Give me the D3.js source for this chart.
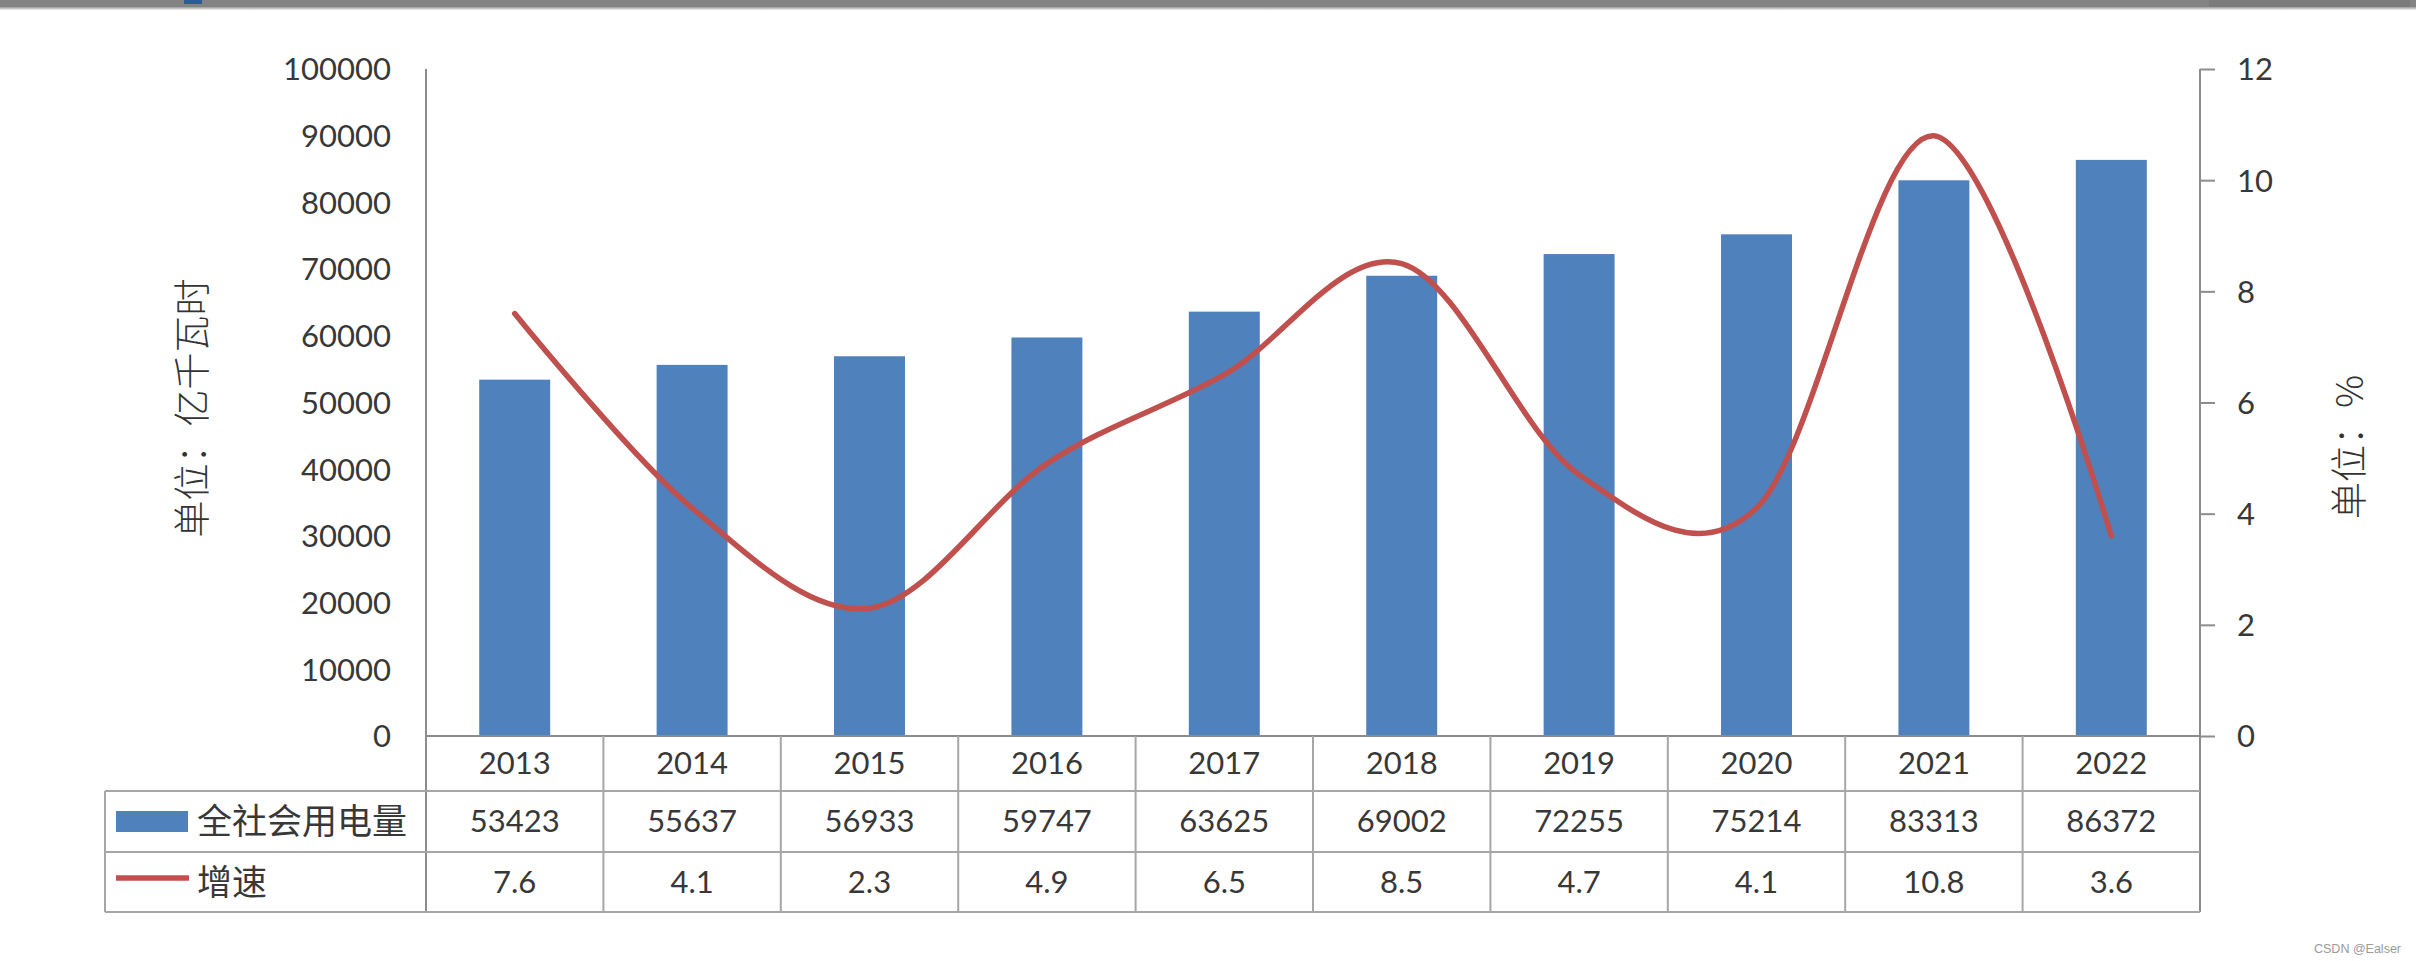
<!DOCTYPE html>
<html>
<head>
<meta charset="utf-8">
<script src="https://cdn.jsdelivr.net/npm/d3@7/dist/d3.min.js"></script>
<style>
html,body{margin:0;padding:0;background:#fff;}
svg{display:block;}
</style>
</head>
<body>
<svg id="chart" width="2416" height="961"></svg>
<script>
// ---- data ----
const years = ["2013","2014","2015","2016","2017","2018","2019","2020","2021","2022"];
const consumption = [53423,55637,56933,59747,63625,69002,72255,75214,83313,86372];
const growth = [7.6,4.1,2.3,4.9,6.5,8.5,4.7,4.1,10.8,3.6];
const leftTicks = [0,10000,20000,30000,40000,50000,60000,70000,80000,90000,100000];
const rightTicks = [0,2,4,6,8,10,12];
const seriesNames = ["全社会用电量","增速"];
const leftTitle = "单位：亿千瓦时";
const rightTitle = "单位：%";
const watermark = "CSDN @Ealser";

// ---- layout ----
const W = 2416, H = 961;
const x0 = 426, x1 = 2200, yBase = 736, yTop = 69;
const tableLeft = 105;
const rowLines = [736, 791, 852, 912];
const numFont = "Lato, 'Liberation Sans', sans-serif";
const cjkFont = "'Noto Sans CJK SC', sans-serif";
const textColor = "#383838";
const gridColor = "#a6a6a6";
const axisColor = "#8c8c8c";

const svg = d3.select("#chart");

// top screenshot band
svg.append("rect").attr("x",0).attr("y",0).attr("width",W).attr("height",7).attr("fill","#838383");
svg.append("rect").attr("x",2209).attr("y",0).attr("width",201).attr("height",7).attr("fill","#7b7b7b");
const grad = svg.append("defs").append("linearGradient").attr("id","bandg").attr("x1",0).attr("x2",0).attr("y1",0).attr("y2",1);
grad.append("stop").attr("offset","0%").attr("stop-color","#9a9a9a");
grad.append("stop").attr("offset","100%").attr("stop-color","#f0f0f0");
svg.append("rect").attr("x",0).attr("y",7).attr("width",W).attr("height",3).attr("fill","url(#bandg)");
svg.append("rect").attr("x",184).attr("y",0).attr("width",18).attr("height",4).attr("fill","#2e5b9a");

// scales
const x = d3.scaleBand().domain(years).range([x0, x1]).paddingInner(0.6).paddingOuter(0.3);
const step = x.step();
const yL = d3.scaleLinear().domain([0, 100000]).range([yBase, yTop]);
const yR = d3.scaleLinear().domain([0, 12]).range([yBase, yTop]);

// bars
svg.append("g").selectAll("rect").data(years).join("rect")
  .attr("x", d => x(d))
  .attr("y", (d,i) => yL(consumption[i]))
  .attr("width", x.bandwidth())
  .attr("height", (d,i) => yBase - yL(consumption[i]))
  .attr("fill", "#4F81BD");

// line
const line = d3.line()
  .x((d,i) => x(years[i]) + x.bandwidth()/2)
  .y(d => yR(d))
  .curve(d3.curveCardinal.tension(0));
svg.append("path").datum(growth)
  .attr("d", line)
  .attr("fill","none")
  .attr("stroke","#C0504D")
  .attr("stroke-width",5.5)
  .attr("stroke-linecap","round")
  .attr("stroke-linejoin","round");

// left axis (labels only)
const gL = svg.append("g").attr("transform", `translate(${x0},0)`)
  .call(d3.axisLeft(yL).tickValues(leftTicks).tickSize(0).tickPadding(35).tickFormat(d3.format("d")));
gL.select(".domain").remove();
gL.selectAll("text").attr("font-family", numFont).attr("font-size", 31).attr("fill", textColor).attr("dy","0.35em");

// right axis
const gR = svg.append("g").attr("transform", `translate(${x1},0)`)
  .call(d3.axisRight(yR).tickValues(rightTicks).tickSize(15).tickPadding(22).tickFormat(d3.format("d")));
gR.select(".domain").remove();
gR.selectAll("line").attr("stroke", axisColor).attr("stroke-width", 2);
gR.selectAll("text").attr("font-family", numFont).attr("font-size", 31).attr("fill", textColor).attr("dy","0.35em");

// axis vertical lines
svg.append("line").attr("x1",x0).attr("x2",x0).attr("y1",yTop).attr("y2",rowLines[3]).attr("stroke",axisColor).attr("stroke-width",2);
svg.append("line").attr("x1",x1).attr("x2",x1).attr("y1",yTop).attr("y2",rowLines[3]).attr("stroke",axisColor).attr("stroke-width",2);

// table grid
const grid = svg.append("g").attr("stroke", gridColor).attr("stroke-width", 2);
grid.append("line").attr("x1",x0).attr("x2",x1).attr("y1",rowLines[0]).attr("y2",rowLines[0]).attr("stroke",axisColor);
[1,2,3].forEach(r => grid.append("line").attr("x1",tableLeft).attr("x2",x1).attr("y1",rowLines[r]).attr("y2",rowLines[r]));
grid.append("line").attr("x1",tableLeft).attr("x2",tableLeft).attr("y1",rowLines[1]).attr("y2",rowLines[3]);
years.forEach((d,i) => {
  if (i === 0) return;
  const xx = x(d) - (step - x.bandwidth())/2;
  grid.append("line").attr("x1",xx).attr("x2",xx).attr("y1",rowLines[0]).attr("y2",rowLines[3]);
});

// table text
const cx = d => x(d) + x.bandwidth()/2;
const rowMid = r => (rowLines[r] + rowLines[r+1]) / 2;
const tt = svg.append("g").attr("font-family", numFont).attr("font-size", 31).attr("fill", textColor).attr("text-anchor","middle");
tt.selectAll("text.yr").data(years).join("text").attr("class","yr")
  .attr("x", cx).attr("y", rowMid(0)).attr("dy","0.35em").text(d => d);
tt.selectAll("text.cv").data(consumption).join("text").attr("class","cv")
  .attr("x", (d,i) => cx(years[i])).attr("y", rowMid(1)).attr("dy","0.35em").text(d => d);
tt.selectAll("text.gv").data(growth).join("text").attr("class","gv")
  .attr("x", (d,i) => cx(years[i])).attr("y", rowMid(2)).attr("dy","0.35em").text(d => d3.format(".1f")(d));

// legend keys
svg.append("rect").attr("x",116).attr("y",rowMid(1)-10.5).attr("width",72).attr("height",21).attr("fill","#4F81BD");
svg.append("line").attr("x1",116).attr("x2",189).attr("y1",rowMid(2)-4).attr("y2",rowMid(2)-4).attr("stroke","#C0504D").attr("stroke-width",5.5);
svg.append("text").attr("x",197).attr("y",rowMid(1)).attr("dy","0.36em")
  .attr("font-family",cjkFont).attr("font-size",35).attr("fill",textColor).text(seriesNames[0]);
svg.append("text").attr("x",197).attr("y",rowMid(2)).attr("dy","0.36em")
  .attr("font-family",cjkFont).attr("font-size",35).attr("fill",textColor).text(seriesNames[1]);

// axis titles
svg.append("text").attr("transform","translate(193,408) rotate(-90)").attr("text-anchor","middle").attr("dy","0.35em")
  .attr("font-family",cjkFont).attr("font-size",37).attr("font-weight",300).attr("fill","#333").text(leftTitle);
svg.append("text").attr("transform","translate(2350,447) rotate(-90)").attr("text-anchor","middle").attr("dy","0.35em")
  .attr("font-family",cjkFont).attr("font-size",37).attr("font-weight",300).attr("fill","#333").text(rightTitle);

// watermark
svg.append("text").attr("x",2401).attr("y",953).attr("text-anchor","end")
  .attr("font-family","'Liberation Sans', sans-serif").attr("font-size",12.5).attr("fill","#9a9a9a").text(watermark);
</script>
</body>
</html>
